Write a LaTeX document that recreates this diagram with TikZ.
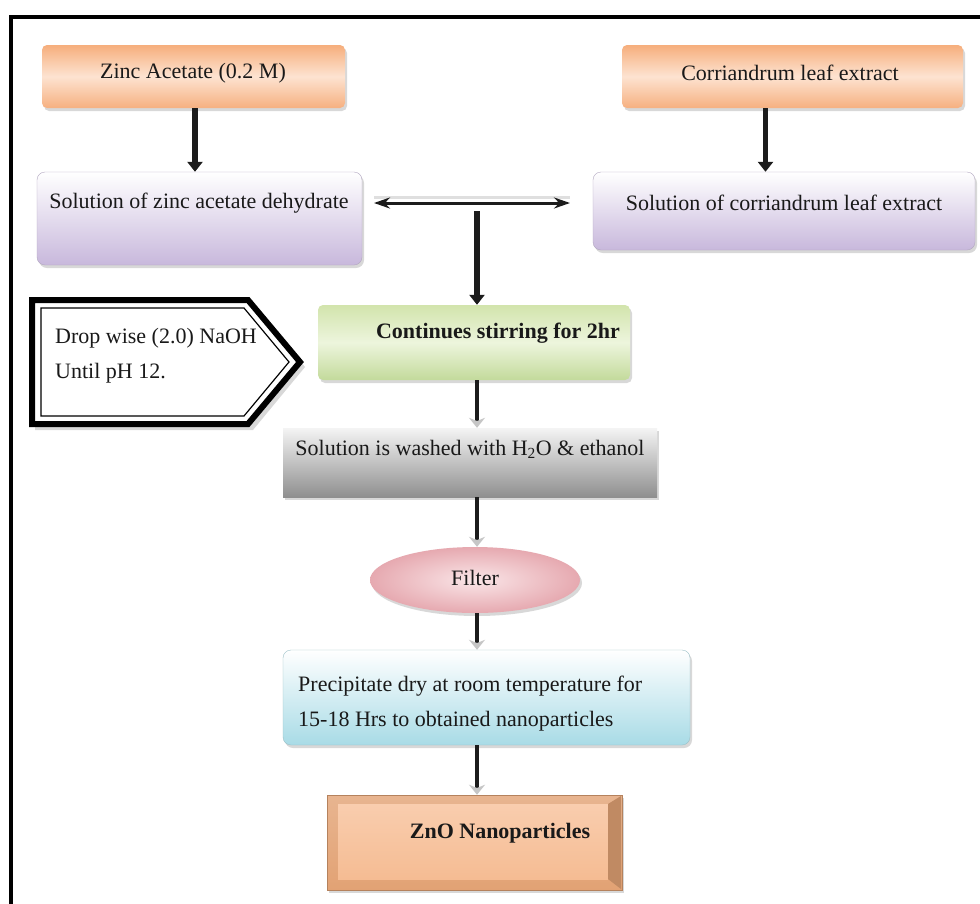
\documentclass[tikz,border=0pt]{standalone}
\usepackage{fontspec}
\setmainfont{Liberation Serif}
\newfontfamily\lserif{Liberation Serif}
\usetikzlibrary{arrows.meta,shapes.geometric,shadows,calc}
\definecolor{orTop}{HTML}{F6AE7C}
\definecolor{orMid}{HTML}{FDE3D1}
\definecolor{orBot}{HTML}{F6B080}
\definecolor{lavBot}{HTML}{C8B8DC}
\definecolor{grTop}{HTML}{D2E4AC}
\definecolor{grMid}{HTML}{EDF5DD}
\definecolor{grBot}{HTML}{C3DA9B}
\definecolor{gyTop}{HTML}{F4F4F4}
\definecolor{gyBot}{HTML}{8F8F8F}
\definecolor{pkOut}{HTML}{E6A9B0}
\definecolor{pkIn}{HTML}{FAE6E8}
\definecolor{cyBot}{HTML}{A8DBE6}
\definecolor{znEdge}{HTML}{E2A274}
\definecolor{znFace}{HTML}{F9CDAE}
\definecolor{znFace2}{HTML}{F5BC93}
\definecolor{arrC}{HTML}{1C1C1C}
\begin{document}
\begin{tikzpicture}[x=1pt,y=-1pt,
  txt/.style={font=\lserif\fontsize{22}{35}\selectfont, inner sep=0pt, text=black!90},
  btxt/.style={font=\lserif\fontsize{22}{26}\selectfont\bfseries, inner sep=0pt, text=black!90},
  shad/.style={drop shadow={shadow xshift=2pt,shadow yshift=-3pt,opacity=.3,fill=gray}},
  orbox/.style={rectangle, rounded corners=5pt, shad, top color=orTop, bottom color=orBot, middle color=orMid},
  lavbox/.style={rectangle, rounded corners=8pt, shad, draw=lavBot!70!gray, line width=0.4pt, top color=white, bottom color=lavBot},
  grbox/.style={rectangle, rounded corners=5pt, shad, top color=grTop, bottom color=grBot, middle color=grMid},
  gybox/.style={rectangle, shad, top color=gyTop, bottom color=gyBot},
  pkell/.style={ellipse, shad, inner color=pkIn, outer color=pkOut},
  cybox/.style={rectangle, rounded corners=8pt, shad, draw=cyBot!70!gray, line width=0.4pt, top color=white, bottom color=cyBot},
  znbox/.style={rectangle, shad, top color=znEdge!80, bottom color=znEdge, draw=znEdge!80!black, line width=0.5pt},
  arrTop/.style={draw=arrC, line width=5.5pt, -{Triangle[length=10pt,width=15pt]}},
  arrLow/.style={draw=arrC, line width=4pt, -{Stealth[length=10pt,width=16pt,color=gray!45]}},
]
\useasboundingbox (0,0) rectangle (980,903);
\fill[white] (0,0) rectangle (980,903);
% outer frame
\draw[line width=4pt] (11,910) -- (11,17) -- (990,17);

% boxes
\node[orbox, minimum width=303, minimum height=63] (za) at (193.5,76.5) {};
\node[txt] (zat) at (193,73) {Zinc Acetate (0.2 M)};
\node[orbox, minimum width=341, minimum height=63] (ca) at (792.5,76.5) {};
\node[txt] (cat) at (790,73) {Corriandrum leaf extract};

\node[lavbox, minimum width=325, minimum height=93] (sz) at (199.5,218.5) {};
\node[txt] (szt) at (199,203) {Solution of zinc acetate dehydrate};
\node[lavbox, minimum width=382, minimum height=78] (sc) at (784,211) {};
\node[txt] (sct) at (784,203) {Solution of corriandrum leaf extract};

\node[grbox, minimum width=312, minimum height=75] (stir) at (474,342.5) {};
\node[btxt] (stirt) at (498,333) {Continues stirring for 2hr};

% pentagon (NaOH addition)
\fill[gray!60, opacity=.5] (35,304) -- (253,304) -- (305,367) -- (253,430) -- (35,430) -- cycle;
\fill[white] (32,300) -- (248,300) -- (300,362) -- (248,424) -- (32,424) -- cycle;
\draw[line width=6pt, line join=miter] (32,300) -- (248,300) -- (300,362) -- (248,424) -- (32,424) -- cycle;
\draw[line width=1.2pt, line join=miter] (41,308) -- (244,308) -- (289,362) -- (244,416) -- (41,416) -- cycle;
\node[txt, align=left, anchor=west] (naoh) at (55,356) {Drop wise (2.0) NaOH\\Until pH 12.};

\node[gybox, minimum width=374, minimum height=69] (wash) at (470,462.5) {};
\node[txt] (washt) at (470,449) {Solution is washed with H\textsubscript{2}O \& ethanol};

\node[pkell, minimum width=210, minimum height=66, inner sep=0pt] (filt) at (475,580) {};
\node[txt] (filtt) at (475,578) {Filter};

\node[cybox, minimum width=407, minimum height=95] (prec) at (486.5,697.5) {};
\node[txt, align=left, anchor=west] (prect) at (298,704) {Precipitate dry at room temperature for\\15-18 Hrs to obtained nanoparticles};

\node[znbox, minimum width=295, minimum height=95] (zno) at (474.5,842.5) {};
\fill[top color=znFace, bottom color=znFace2] (338,804) rectangle (608,879);
\fill[znEdge!85!black] (608,804) -- (621,796) -- (621,889) -- (608,879) -- cycle;
\node[btxt] (znot) at (500,833) {ZnO Nanoparticles};

% connectors
\coordinate (dl) at (374,203);
\coordinate (dr) at (570,203);
\coordinate (dm) at (477,211);
\draw[gray!25, line width=3pt] ([yshift=6]dl) -- ([yshift=6]dr);
\draw[draw=arrC, line width=3pt, {Stealth[length=16pt,width=11pt]}-{Stealth[length=16pt,width=11pt]}] (dl) -- (dr);

\draw[arrTop] (za.south -| 195,0) -- (sz.north -| 195,0);
\draw[arrTop] ([xshift=-27]ca.south) -- ([xshift=-27]ca.south |- sc.north);
\draw[arrTop] (dm) -- (dm |- stir.north);

\draw[arrLow] (stir.south -| dm) -- (wash.north -| dm);
\draw[arrLow] (wash.south -| dm) -- (filt.north -| dm);
\draw[arrLow] (filt.south -| dm) -- (prec.north -| dm);
\draw[arrLow] (prec.south -| dm) -- (zno.north -| dm);
\end{tikzpicture}
\end{document}
